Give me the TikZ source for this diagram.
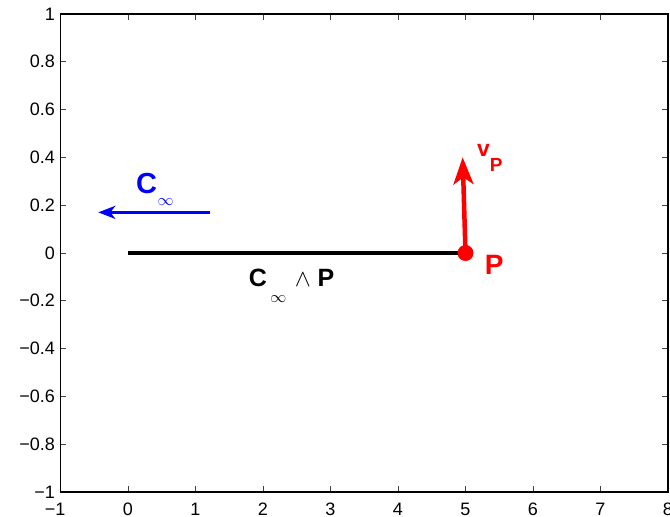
\RequirePackage{fix-cm}
\documentclass[tikz,border=0pt]{standalone}
\usepackage{fontspec}
\setmainfont{Liberation Sans}
\usetikzlibrary{arrows.meta}
\definecolor{mred}{RGB}{255,0,0}
\definecolor{mblue}{RGB}{0,0,255}
\begin{document}
\begin{tikzpicture}[x=67.5pt,y=239pt,
  ticklab/.style={font=\fontsize{18}{18}\selectfont, inner sep=0pt},
  tickmark/.style={line width=0.7pt, black!75},
  axisbox/.style={line width=1.1pt, black},
  segline/.style={line width=3.5pt, black},
  dotmark/.style={circle, fill=mred, minimum size=16pt, inner sep=0pt},
  redarrow/.style={line width=4.5pt, mred, -{Stealth[length=27pt,width=20pt,inset=7pt]}},
  bluearrow/.style={line width=3.5pt, mblue, -{Stealth[length=17pt,width=13pt,inset=5pt]}},
  lab/.style={inner sep=0pt, anchor=base west}]
\useasboundingbox (-1.8963,-1.1046) rectangle (8.0296,1.0586);
\fill[white] (-1.8963,-1.1046) rectangle (8.0296,1.0586);
% ticks
\foreach \i in {-1,...,8} {
  \draw[tickmark] (\i,-1) -- ++(0,6pt);
  \draw[tickmark] (\i,1) -- ++(0,-6pt);
}
\foreach \v in {-1,-0.8,...,1.01} {
  \draw[tickmark] (-1,\v) -- ++(6pt,0);
  \draw[tickmark] (8,\v) -- ++(-6pt,0);
}
\draw[axisbox] (-1,-1) rectangle (8,1);
% y labels
\foreach \v/\t in {1/1,0.8/0.8,0.6/0.6,0.4/0.4,0.2/0.2,0/0,-0.2/−0.2,-0.4/−0.4,-0.6/−0.6,-0.8/−0.8,-1/−1}
  \node[ticklab, anchor=east, xshift=-5.5pt] (yl\t) at (-1,\v) {\t};
% x labels
\node[ticklab, anchor=north east, xshift=5pt, yshift=-10.5pt] (xlm1) at (-1,-1) {−1};
\foreach \i in {0,...,8}
  \node[ticklab, anchor=north, yshift=-10.5pt] (xl\i) at (\i,-1) {\i};
% data
\coordinate (O) at (0,0);
\coordinate (Pc) at (5,0);
\coordinate (vtip) at (4.958,0.4004);
\coordinate (cstart) at (1.215,0.170);
\coordinate (ctip) at (-0.44,0.170);
\draw[segline] (O) -- (Pc);
\draw[redarrow] (Pc) -- (vtip);
\node[dotmark] (P) at (Pc) {};
\draw[bluearrow] (cstart) -- (ctip);
% labels
\node[lab, text=mred] (vP) at (5.170,0.4017)
  {\fontsize{23}{23}\selectfont\bfseries v\raisebox{-15pt}{\fontsize{19}{19}\selectfont P}};
\node[lab, text=mred] (Plab) at (5.283,-0.0879)
  {\fontsize{28}{28}\selectfont\bfseries P};
\node[lab, text=mblue] (Cinf) at (0.1185,0.2498)
  {\makebox[21.4pt][l]{\fontsize{29}{29}\selectfont\bfseries C}\raisebox{-12pt}{\fontsize{16}{16}\selectfont$\infty$}};
\node[lab] (CwP) at (1.7896,-0.141)
  {\makebox[21.3pt][l]{\fontsize{25}{25}\selectfont\bfseries C}\makebox[24.6pt][l]{\raisebox{-15.3pt}{\fontsize{16}{16}\selectfont$\infty$}}\makebox[22.7pt][l]{\fontsize{24}{24}\selectfont$\wedge$}\fontsize{25}{25}\selectfont\bfseries P};
\end{tikzpicture}
\end{document}
